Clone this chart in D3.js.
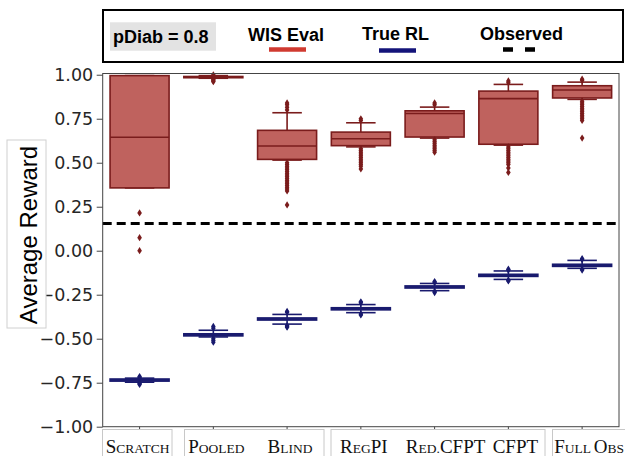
<!DOCTYPE html>
<html>
<head>
<meta charset="utf-8">
<script src="https://cdn.jsdelivr.net/npm/d3@7"></script>
<style>
  body { margin: 0; background: #fff; }
  svg { display: block; }
</style>
</head>
<body>
<div id="data-viz"></div>
<script>
// categories and tick values
var categories = ["Scratch", "Pooled", "Blind", "RegPI", "Red.CFPT", "CFPT", "Full Obs"];
var yTicks = [-1.0, -0.75, -0.5, -0.25, 0.0, 0.25, 0.5, 0.75, 1.0];

// WIS Eval boxes
var wisQ1  = [0.357, 0.983, 0.519, 0.597, 0.646, 0.605, 0.868];
var wisMed = [0.645, 0.987, 0.595, 0.636, 0.780, 0.864, 0.913];
var wisQ3  = [0.995, 0.990, 0.684, 0.674, 0.795, 0.907, 0.9375];
var wisLo  = [0.357, 0.980, 0.515, 0.590, 0.640, 0.600, 0.860];
var wisHi  = [0.995, 0.995, 0.784, 0.727, 0.816, 0.945, 0.958];
var wisOut = [
  [0.215, 0.074, 0.0],
  [1.0, 0.975, 0.970, 0.965, 0.960],
  [0.80, 0.815, 0.83, 0.84, 0.50, 0.49, 0.48, 0.47, 0.46, 0.45, 0.44, 0.43, 0.42, 0.41, 0.40, 0.39, 0.38, 0.37, 0.36, 0.35, 0.34, 0.26],
  [0.74, 0.75, 0.58, 0.57, 0.56, 0.55, 0.54, 0.53, 0.52, 0.51, 0.50, 0.49, 0.48, 0.465],
  [0.83, 0.84, 0.63, 0.62, 0.61, 0.60, 0.59, 0.58, 0.57, 0.56],
  [0.955, 0.965, 0.59, 0.58, 0.57, 0.56, 0.55, 0.54, 0.53, 0.52, 0.51, 0.50, 0.49, 0.47, 0.445],
  [0.968, 0.975, 0.85, 0.84, 0.83, 0.82, 0.81, 0.80, 0.79, 0.78, 0.77, 0.76, 0.75, 0.74, 0.64]
];

// True RL boxes
var rlQ1  = [-0.741, -0.484, -0.394, -0.336, -0.212, -0.146, -0.089];
var rlMed = [-0.735, -0.478, -0.388, -0.330, -0.206, -0.140, -0.083];
var rlQ3  = [-0.729, -0.472, -0.382, -0.324, -0.200, -0.134, -0.077];
var rlLo  = [-0.747, -0.490, -0.417, -0.352, -0.227, -0.163, -0.100];
var rlHi  = [-0.724, -0.452, -0.362, -0.306, -0.186, -0.115, -0.055];
var rlOut = [
  [-0.72, -0.715, -0.75, -0.755, -0.76],
  [-0.44, -0.43, -0.50, -0.51, -0.52],
  [-0.35, -0.345, -0.425, -0.43, -0.435],
  [-0.295, -0.29, -0.36, -0.365],
  [-0.18, -0.175, -0.232, -0.238],
  [-0.11, -0.105, -0.168, -0.172],
  [-0.05, -0.045, -0.105, -0.11]
];

// observed reference level
var observed = 0.155;

// shift of each pasted x label from its tick
var labelShift = [-2, 3, 3, 3, 11, 7, 7];

var width = 625, height = 456;
var plot = {left: 102.7, right: 619, top: 73.5, bottom: 426.7};

var svg = d3.select("#data-viz")
  .append("svg")
    .attr("width", width)
    .attr("height", height);

var x = d3.scaleBand()
  .domain(categories)
  .range([plot.left, plot.right])
  .padding(0);

var y = d3.scaleLinear()
  .domain([-1, 1.007])
  .range([plot.bottom, plot.top]);

var boxW = x.bandwidth() * 0.8;

// thin diamond marker for fliers
var diamond = "M0,-3.6L2.3,0L0,3.6L-2.3,0Z";

function drawBoxes(q1, med, q3, lo, hi, out, fill, edge) {
  var g = svg.append("g");
  categories.forEach(function(c, i) {
    var cx = x(c) + x.bandwidth() / 2;
    // whiskers
    g.append("line")
      .attr("x1", cx).attr("x2", cx)
      .attr("y1", y(q3[i])).attr("y2", y(hi[i]))
      .attr("stroke", edge).attr("stroke-width", 1.6);
    g.append("line")
      .attr("x1", cx).attr("x2", cx)
      .attr("y1", y(q1[i])).attr("y2", y(lo[i]))
      .attr("stroke", edge).attr("stroke-width", 1.6);
    // caps
    [lo[i], hi[i]].forEach(function(v) {
      g.append("line")
        .attr("x1", cx - boxW / 4).attr("x2", cx + boxW / 4)
        .attr("y1", y(v)).attr("y2", y(v))
        .attr("stroke", edge).attr("stroke-width", 1.6);
    });
    // box
    g.append("rect")
      .attr("x", cx - boxW / 2)
      .attr("y", y(q3[i]))
      .attr("width", boxW)
      .attr("height", Math.max(y(q1[i]) - y(q3[i]), 0.5))
      .attr("fill", fill)
      .attr("stroke", edge)
      .attr("stroke-width", 1.6);
    // median
    g.append("line")
      .attr("x1", cx - boxW / 2).attr("x2", cx + boxW / 2)
      .attr("y1", y(med[i])).attr("y2", y(med[i]))
      .attr("stroke", edge).attr("stroke-width", 1.6);
    // fliers
    g.selectAll(null)
      .data(out[i])
      .enter()
      .append("path")
        .attr("d", diamond)
        .attr("transform", function(d) { return "translate(" + cx + "," + y(d) + ")"; })
        .attr("fill", edge);
  });
}

drawBoxes(wisQ1, wisMed, wisQ3, wisLo, wisHi, wisOut, "#bf625e", "#7a1c1c");
drawBoxes(rlQ1, rlMed, rlQ3, rlLo, rlHi, rlOut, "#3d4194", "#191a6e");

// observed dashed line
svg.append("line")
  .attr("x1", plot.left).attr("x2", plot.right)
  .attr("y1", y(observed)).attr("y2", y(observed))
  .attr("stroke", "#000")
  .attr("stroke-width", 3)
  .attr("stroke-dasharray", "9,5");

// spines
svg.append("rect")
  .attr("x", plot.left).attr("y", plot.top)
  .attr("width", plot.right - plot.left)
  .attr("height", plot.bottom - plot.top)
  .attr("fill", "none")
  .attr("stroke", "#444")
  .attr("stroke-width", 1);

// y axis
var yAxis = svg.append("g")
  .attr("transform", "translate(" + plot.left + ",0)")
  .call(d3.axisLeft(y).tickValues(yTicks).tickFormat(d3.format(".2f")).tickSize(6).tickPadding(3.5));
yAxis.select(".domain").remove();
yAxis.selectAll("line").attr("stroke", "#444");
yAxis.selectAll("text")
  .attr("fill", "#262626")
  .style("font-family", "DejaVu Sans")
  .style("font-size", "17.5px");

// x axis ticks
var xAxis = svg.append("g")
  .attr("transform", "translate(0," + plot.bottom + ")")
  .call(d3.axisBottom(x).tickSize(6).tickFormat(""));
xAxis.select(".domain").remove();
xAxis.selectAll("line").attr("stroke", "#444");

// pasted label frames
var frames = [[102.5, 172], [184.5, 324], [331, 545], [552.5, 640]];
svg.selectAll(".frame")
  .data(frames)
  .enter()
  .append("rect")
    .attr("x", function(d) { return d[0]; })
    .attr("y", 429.5)
    .attr("width", function(d) { return d[1] - d[0]; })
    .attr("height", 40)
    .attr("fill", "#fff")
    .attr("stroke", "#c8c8c8")
    .attr("stroke-width", 1);

// small caps x labels
categories.forEach(function(c, i) {
  var t = svg.append("text")
    .attr("x", x(c) + x.bandwidth() / 2 + labelShift[i])
    .attr("y", 453.3)
    .attr("text-anchor", "middle")
    .attr("fill", "#111")
    .style("font-family", "Liberation Serif");
  var size = 19;
  c.split("").forEach(function(ch) {
    if (ch >= "a" && ch <= "z") size = 13.5;
    else if (ch >= "A" && ch <= "Z") size = 19;
    t.append("tspan")
      .style("font-size", size + "px")
      .text(ch.toUpperCase());
  });
});

// y label in its frame
svg.append("rect")
  .attr("x", 7).attr("y", 140)
  .attr("width", 39).attr("height", 188)
  .attr("fill", "#fff")
  .attr("stroke", "#d0d0d0")
  .attr("stroke-width", 1);
svg.append("text")
  .attr("transform", "translate(37,235) rotate(-90)")
  .attr("text-anchor", "middle")
  .attr("fill", "#000")
  .style("font-family", "Liberation Sans")
  .style("font-size", "24px")
  .text("Average Reward");

// legend
var legend = svg.append("g");
legend.append("rect")
  .attr("x", 103).attr("y", 10)
  .attr("width", 520).attr("height", 52)
  .attr("fill", "#fff")
  .attr("stroke", "#000")
  .attr("stroke-width", 2);
legend.append("rect")
  .attr("x", 110).attr("y", 22.3)
  .attr("width", 106).attr("height", 28.4)
  .attr("fill", "#e3e3e3");

var legendText = [["pDiab = 0.8", 113, 42.5], ["WIS Eval", 248, 40.5], ["True RL", 362, 40], ["Observed", 480, 40]];
legend.selectAll(".ltext")
  .data(legendText)
  .enter()
  .append("text")
    .attr("x", function(d) { return d[1]; })
    .attr("y", function(d) { return d[2]; })
    .attr("fill", "#000")
    .style("font-family", "Liberation Sans")
    .style("font-weight", "bold")
    .style("font-size", "18px")
    .text(function(d) { return d[0]; });

legend.append("line")
  .attr("x1", 269).attr("x2", 306).attr("y1", 49.5).attr("y2", 49.5)
  .attr("stroke", "#d03a30").attr("stroke-width", 4.5);
legend.append("line")
  .attr("x1", 379).attr("x2", 416).attr("y1", 50.5).attr("y2", 50.5)
  .attr("stroke", "#14147a").attr("stroke-width", 4.5);
legend.append("line")
  .attr("x1", 503).attr("x2", 537).attr("y1", 49.5).attr("y2", 49.5)
  .attr("stroke", "#000").attr("stroke-width", 4.5)
  .attr("stroke-dasharray", "10,12");
</script>
</body>
</html>
